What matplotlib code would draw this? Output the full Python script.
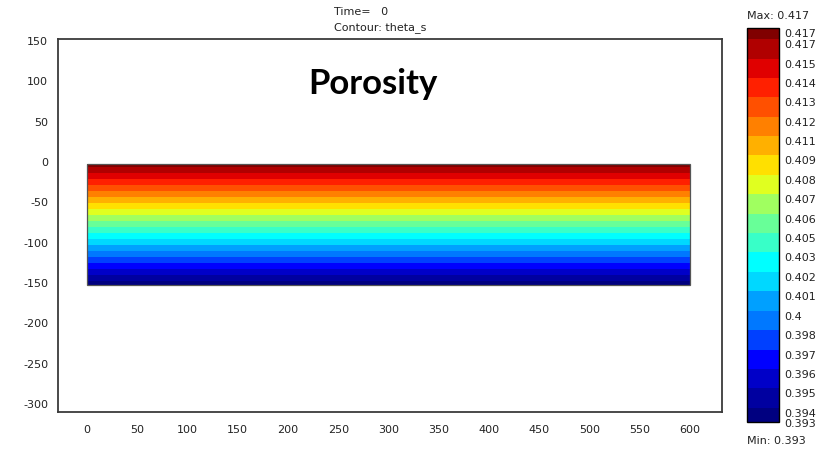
import numpy as np
import matplotlib
matplotlib.use("Agg")
import matplotlib.pyplot as plt
from matplotlib.colors import ListedColormap, BoundaryNorm
from matplotlib.patches import Rectangle
import matplotlib.transforms as mtransforms

# domain of the soil column (m)
x_edges = [0, 600]
y_edges = [-150, 0]

# saturated water content at the bottom and top of the column
theta_bottom = 0.3926
theta_top = 0.4174

# contour levels, top to bottom as on the legend
levels = [0.41671, 0.41548, 0.41426, 0.41304, 0.41182, 0.41060, 0.40938,
          0.40815, 0.40693, 0.40571, 0.40451, 0.40327, 0.40205, 0.40083,
          0.39960, 0.39838, 0.39716, 0.39594, 0.39471, 0.39351]

x_ticks = [0, 50, 100, 150, 200, 250, 300, 350, 400, 450, 500, 550, 600]
y_ticks = [150, 100, 50, 0, -50, -100, -150, -200, -250, -300]

time_val = 0
var_name = "theta_s"
title = "Porosity"

# rainbow palette, lowest band first
band_colors = ["#000080", "#0000a0", "#0000c8", "#0000ff", "#0040ff",
               "#0078ff", "#00a0ff", "#00d8ff", "#00ffff", "#38ffc8",
               "#68ff98", "#a0ff60", "#e0ff20", "#ffe000", "#ffb000",
               "#ff8000", "#ff5000", "#ff2000", "#e00000", "#b00000",
               "#800000"]

plt.rcParams['font.family'] = ['DejaVu Sans']
plt.rcParams['axes.unicode_minus'] = False
txt_col = "#222222"
frame_col = "#3a3a3a"

fig = plt.figure(figsize=(8.35, 4.52), dpi=100)
ax = fig.add_axes([58 / 835, 1 - 413 / 452, 664 / 835, 373.5 / 452])

X, Y = np.meshgrid(x_edges, y_edges)
Z = np.array([[theta_bottom, theta_bottom], [theta_top, theta_top]])

bounds = [theta_bottom] + levels[::-1] + [theta_top]
n_bands = len(bounds) - 1
cmap = ListedColormap(band_colors)
norm = BoundaryNorm(bounds, n_bands)

cs = ax.contourf(X, Y, Z, levels=bounds, cmap=cmap, norm=norm)
ax.add_patch(Rectangle((x_edges[0], y_edges[0]), x_edges[1] - x_edges[0],
                       y_edges[1] - y_edges[0], fill=False,
                       edgecolor="#555555", lw=0.9))

ax.set_xlim(-29, 632)
ax.set_ylim(-307.4, 155.6)
ax.set_xticks(x_ticks)
ax.set_yticks(y_ticks)
ax.tick_params(length=0, labelsize=8, labelcolor=txt_col)
ax.tick_params(axis='x', pad=9)
ax.tick_params(axis='y', pad=7)
for sp in ax.spines.values():
    sp.set_color(frame_col)
    sp.set_linewidth(1.3)

# y labels sit a little above their grid values
shift = mtransforms.ScaledTranslation(0, 3 / 100, fig.dpi_scale_trans)
for t in ax.yaxis.get_major_ticks():
    t.label1.set_transform(t.label1.get_transform() + shift)

ax.text(285, 88, title, ha='center', va='baseline', fontsize=25,
        fontweight='bold', family='Lato', color='black')

fig.text(334 / 835, 1 - 12 / 452, "Time=   %g" % time_val, ha='left',
         va='center', fontsize=8, color=txt_col)
fig.text(334 / 835, 1 - 28 / 452, "Contour: %s" % var_name, ha='left',
         va='center', fontsize=8, color=txt_col)

# legend bar
cax = fig.add_axes([747 / 835, 1 - 423 / 452, 32 / 835, 394 / 452])
cb = fig.colorbar(cs, cax=cax, spacing='proportional')
cb.set_ticks(bounds)
cb.set_ticklabels(['%.3g' % v for v in bounds])
cax.tick_params(length=0, labelsize=8, labelcolor=txt_col, pad=4)
cb.outline.set_edgecolor('black')
cb.outline.set_linewidth(1.0)

# legend labels hang slightly below their levels, except the minimum
down = mtransforms.ScaledTranslation(0, -4 / 100, fig.dpi_scale_trans)
for t in cax.yaxis.get_major_ticks()[1:]:
    t.label2.set_transform(t.label2.get_transform() + down)

fig.text(747 / 835, 1 - 16 / 452, "Max: %.3g" % theta_top, ha='left',
         va='center', fontsize=8, color=txt_col)
fig.text(747 / 835, 1 - 441 / 452, "Min: %.3g" % theta_bottom, ha='left',
         va='center', fontsize=8, color=txt_col)

fig.savefig("out.png", dpi=100)
